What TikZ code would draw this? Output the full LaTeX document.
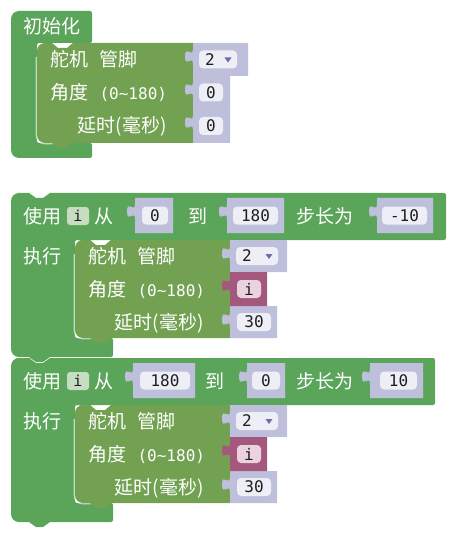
\documentclass[tikz,border=0pt]{standalone}
\usepackage{fontspec}
\newfontfamily\cjk{Noto Sans CJK SC}
\newfontfamily\mono{DejaVu Sans Mono}
\usetikzlibrary{positioning}
\definecolor{loopgreen}{HTML}{5BA55B}
\definecolor{servogreen}{HTML}{71A151}
\definecolor{valgray}{HTML}{BDBFDB}
\definecolor{fieldwhite}{HTML}{EDEEF6}
\definecolor{varpurple}{HTML}{A5587E}
\definecolor{varpink}{HTML}{EAD3DF}
\definecolor{chipgreen}{HTML}{C6DDC2}
\definecolor{dropblue}{HTML}{6A6FAB}
\definecolor{ink}{HTML}{1E1E1E}

\begin{document}
\begin{tikzpicture}[x=1pt, y=-1pt,
  lbl/.style={text=white, font=\cjk\fontsize{19}{21}\selectfont, inner sep=0pt},
  num/.style={text=ink, font=\mono\fontsize{16}{18}\selectfont, inner sep=0pt},
  chip/.style={fill=chipgreen, rounded corners=3pt, minimum width=22pt, minimum height=18pt,
    inner sep=0pt, text=ink, font=\mono\fontsize{15}{17}\selectfont},
  hilite/.style={white, opacity=0.6, line width=1.2pt}]

\useasboundingbox (0,0) rectangle (454,537);

% Init block
\fill[loopgreen] (11,100) [rounded corners=8] -- (11,11) -- (50,11)
  [rounded corners=2] -- (92,11) -- (92,43) -- (37,43) -- (37,143) -- (92,143) -- (92,158) -- (50,158)
  [rounded corners=8] -- (11,158) -- cycle;
\node[lbl, anchor=west] (init) at (23,26) {初始化};

% Loop blocks
\foreach \dy/\xr in {0/446, 165/435} {
  \fill[loopgreen] (11,300+\dy) [rounded corners=8] -- (11,193+\dy) -- (24,193+\dy)
    [sharp corners] -- (29,193+\dy) -- (36,198+\dy) -- (43,198+\dy) -- (50,193+\dy)
    [rounded corners=2] -- (\xr,193+\dy) -- (\xr,240+\dy) -- (75,240+\dy) -- (75,338+\dy)
    -- (113,338+\dy) -- (113,357+\dy)
    [sharp corners] -- (50,357+\dy) -- (43,362+\dy) -- (36,362+\dy) -- (29,357+\dy) -- (24,357+\dy)
    [rounded corners=8] -- (11,357+\dy) -- cycle;
}

% Servo blocks
\foreach \xa/\ya/\xb/\yb/\n in {37/43/193/143/0, 75/240/230/338/1, 75/405/230/503/2} {
  \draw[hilite, rounded corners=8] (\xa-0.7,\ya+14) -- (\xa-0.7,\yb+0.7) -- (\xa+16,\yb+0.7);
  \fill[servogreen] (\xa,\ya+50) [rounded corners=8] -- (\xa,\ya) -- (\xa+10,\ya)
    [sharp corners] -- (\xa+15,\ya) -- (\xa+21,\ya+5) -- (\xa+30,\ya+5) -- (\xa+36,\ya) -- (\xb,\ya)
    -- (\xb,\yb) -- (\xa+36,\yb) -- (\xa+30,\yb+5) -- (\xa+21,\yb+5) -- (\xa+15,\yb) -- (\xa+10,\yb)
    [rounded corners=8] -- (\xa,\yb) -- cycle;
  \node[lbl, anchor=west] (servo\n) at (\xa+13,\ya+16.5) {舵机\hspace{0.6em}管脚};
  \node[lbl, anchor=west] (angle\n) at (\xa+13,\ya+49.5)
    {角度\hspace{0.6em}{\mono\fontsize{16}{18}\selectfont (0\textasciitilde180)}};
  \node[lbl, anchor=east] (delay\n) at (\xb-26,\ya+83) {延时(毫秒)};
}

% Number blocks
\foreach \xa/\ya/\xb/\yb/\fa/\fb/\v in {193/76/230/109/199/223/0, 193/109/230/143/199/223/0,
    135/198/173/233/142/168/0, 227/198/284/233/233/278/180, 377/198/433/233/382/427/-10,
    230/306/277/338/237/271/30, 133/363/195/398/140/190/180, 247/363/285/398/252/280/0,
    370/363/423/398/380/417/10, 230/471/277/503/237/271/30} {
  \fill[valgray] (\xa,\yb) -- (\xa,\ya+21) .. controls (\xa,\ya+11) and (\xa-8,\ya+26) .. (\xa-8,\ya+13.5)
    .. controls (\xa-8,\ya+1) and (\xa,\ya+16) .. (\xa,\ya+6) -- (\xa,\ya) -- (\xb,\ya) -- (\xb,\yb) -- cycle;
  \fill[fieldwhite, rounded corners=4] (\fa,{(\ya+\yb)/2-9}) rectangle (\fb,{(\ya+\yb)/2+9});
  \node[num] (val-\xa-\ya) at ({(\fa+\fb)/2},{(\ya+\yb)/2}) {\v};
}

% Pin dropdowns
\foreach \xa/\ya/\xb/\yb/\fa/\fb/\n in {193/43/248/76/199/237/0, 230/240/287/272/236/278/1,
    230/405/287/437/236/278/2} {
  \fill[valgray] (\xa,\yb) -- (\xa,\ya+21) .. controls (\xa,\ya+11) and (\xa-8,\ya+26) .. (\xa-8,\ya+13.5)
    .. controls (\xa-8,\ya+1) and (\xa,\ya+16) .. (\xa,\ya+6) -- (\xa,\ya) -- (\xb,\ya) -- (\xb,\yb) -- cycle;
  \fill[fieldwhite, rounded corners=4] (\fa,{(\ya+\yb)/2-9}) rectangle (\fb,{(\ya+\yb)/2+9});
  \node[num] (pin\n) at (\fa+11,{(\ya+\yb)/2}) {2};
  \fill[dropblue] (\fb-12.5,{(\ya+\yb)/2-2}) -- (\fb-5.5,{(\ya+\yb)/2-2}) -- (\fb-9,{(\ya+\yb)/2+3}) -- cycle;
}

% Variable i blocks
\foreach \ya/\n in {272/1, 437/2} {
  \fill[varpurple] (230,\ya+34) -- (230,\ya+21) .. controls (230,\ya+11) and (222,\ya+26) .. (222,\ya+13.5)
    .. controls (222,\ya+1) and (230,\ya+16) .. (230,\ya+6) -- (230,\ya) -- (267,\ya) -- (267,\ya+34) -- cycle;
  \fill[varpink, rounded corners=4] (237,\ya+8) rectangle (261,\ya+26);
  \node[num] (var\n) at (249,\ya+17) {i};
}

% Loop headers
\node[lbl, anchor=west] (use1) at (23,216) {使用};
\node[chip] (idx1) at (78,216) {i};
\node[lbl] (from1) at (104,216) {从};
\node[lbl] (to1) at (198,216) {到};
\node[lbl] (stepby1) at (325,216) {步长为};
\node[lbl, anchor=west] (do1) at (23,256) {执行};

\node[lbl, anchor=west] (use2) at (23,381) {使用};
\node[chip] (idx2) at (78,381) {i};
\node[lbl] (from2) at (104,381) {从};
\node[lbl] (to2) at (215,381) {到};
\node[lbl] (stepby2) at (325,381) {步长为};
\node[lbl, anchor=west] (do2) at (23,421) {执行};

\end{tikzpicture}
\end{document}
